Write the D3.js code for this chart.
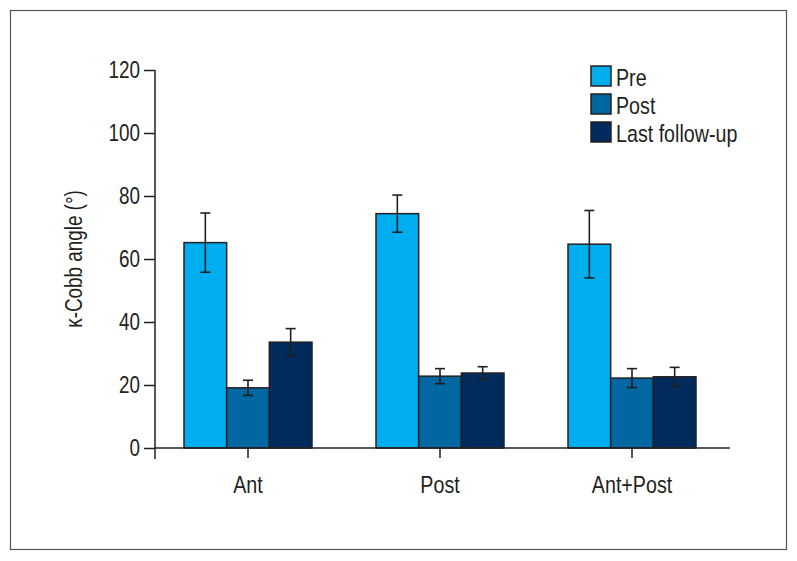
<!DOCTYPE html>
<html>
<head>
<meta charset="utf-8">
<script src="https://cdn.jsdelivr.net/npm/d3@7"></script>
<style>
  html, body { margin: 0; padding: 0; background: #fff; }
  svg text { font-family: "Liberation Sans", Arial, sans-serif; fill: #231f20; }
</style>
</head>
<body>
<svg id="chart" width="797" height="561"></svg>
<script>
const categories = ["Ant", "Post", "Ant+Post"];
const seriesNames = ["Pre", "Post", "Last follow-up"];
const preMean = [65.2, 74.4, 64.7];
const preErr = [9.4, 5.9, 10.7];
const postMean = [19.1, 22.8, 22.2];
const postErr = [2.4, 2.4, 3.0];
const lastMean = [33.6, 23.8, 22.6];
const lastErr = [4.3, 2.0, 3.0];
const yTicks = [0, 20, 40, 60, 80, 100, 120];
const colors = ["#00aeef", "#0067a0", "#002b5c"];

const means = [preMean, postMean, lastMean];
const errs = [preErr, postErr, lastErr];

const svg = d3.select("#chart");
const ink = "#231f20";
const SX = 0.82; // horizontal condensing of text

// outer frame
svg.append("rect").attr("x", 10.5).attr("y", 10.5).attr("width", 776).attr("height", 539)
  .attr("fill", "none").attr("stroke", "#555").attr("stroke-width", 1.2);

const y = d3.scaleLinear().domain([0, 120]).range([448, 70]);
const x0 = d3.scaleBand().domain(categories).range([152, 728]).paddingInner(1/3).paddingOuter(1/6);
const x1 = d3.scaleBand().domain(seriesNames).range([0, x0.bandwidth()]);

const axisX = 155;

// bars
const g = svg.append("g");
categories.forEach((c, ci) => {
  seriesNames.forEach((s, si) => {
    const v = means[si][ci];
    g.append("rect")
      .attr("x", x0(c) + x1(s))
      .attr("y", y(v))
      .attr("width", x1.bandwidth())
      .attr("height", y(0) - y(v))
      .attr("fill", colors[si])
      .attr("stroke", ink).attr("stroke-width", 1.5);
  });
});
// error bars
categories.forEach((c, ci) => {
  seriesNames.forEach((s, si) => {
    const v = means[si][ci], e = errs[si][ci];
    const cx = x0(c) + x1(s) + x1.bandwidth() / 2;
    const eg = g.append("g").attr("stroke", ink).attr("stroke-width", 1.6);
    eg.append("line").attr("x1", cx).attr("x2", cx).attr("y1", y(v + e)).attr("y2", y(v - e));
    eg.append("line").attr("x1", cx - 5).attr("x2", cx + 5).attr("y1", y(v + e)).attr("y2", y(v + e));
    eg.append("line").attr("x1", cx - 5).attr("x2", cx + 5).attr("y1", y(v - e)).attr("y2", y(v - e));
  });
});

// y axis
const yAxis = d3.axisLeft(y).tickValues(yTicks).tickSize(11).tickPadding(4).tickSizeOuter(0);
const yg = svg.append("g").attr("transform", `translate(${axisX},0)`).call(yAxis);
yg.select(".domain").remove();
yg.selectAll(".tick line").attr("stroke", ink).attr("stroke-width", 1.5);
yg.selectAll(".tick text").attr("font-size", 23).style("fill", ink)
  .attr("x", -15 / SX).attr("transform", `scale(${SX},1)`);
svg.append("line").attr("x1", axisX).attr("x2", axisX).attr("y1", y(120)).attr("y2", y(0) + 11)
  .attr("stroke", ink).attr("stroke-width", 1.5);

// x axis
const xAxis = d3.axisBottom(x0).tickSize(10).tickPadding(18).tickSizeOuter(0);
const xg = svg.append("g").attr("transform", `translate(0,${y(0)})`).call(xAxis);
xg.select(".domain").remove();
xg.selectAll(".tick line").attr("stroke", ink).attr("stroke-width", 1.5);
xg.selectAll(".tick text").attr("font-size", 24).style("fill", ink)
  .attr("transform", `scale(${SX},1)`);
svg.append("line").attr("x1", axisX).attr("x2", 730).attr("y1", y(0)).attr("y2", y(0))
  .attr("stroke", ink).attr("stroke-width", 1.5);

// y label
svg.append("text")
  .attr("transform", `translate(82,${(y(0) + y(120)) / 2}) rotate(-90) scale(${SX},1)`)
  .attr("text-anchor", "middle")
  .attr("font-size", 23)
  .text("κ-Cobb angle (°)");

// legend
const lg = svg.append("g").attr("transform", "translate(591,66)");
seriesNames.forEach((s, i) => {
  lg.append("rect").attr("x", 0).attr("y", i * 28).attr("width", 20).attr("height", 20)
    .attr("fill", colors[i]).attr("stroke", ink).attr("stroke-width", 1.5);
  lg.append("text").attr("transform", `translate(25,${i * 28 + 20}) scale(${SX},1)`)
    .attr("font-size", 24).text(s);
});
</script>
</body>
</html>
